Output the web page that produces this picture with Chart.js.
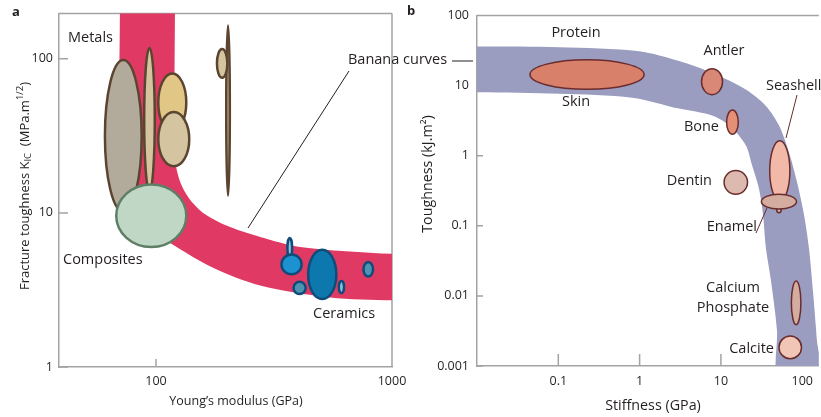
<!DOCTYPE html>
<html>
<head>
<meta charset="utf-8">
<script src="https://cdn.jsdelivr.net/npm/chart.js@4.4.1/dist/chart.umd.min.js"></script>
<style>
  html, body { margin: 0; padding: 0; background: #fff; }
  #wrap { position: relative; width: 821px; height: 417px; }
  canvas { position: absolute; top: 0; }
  #chartA { left: 0; }
  #chartB { left: 410px; }
</style>
</head>
<body>
<div id="wrap">
  <canvas id="chartA" width="821" height="417"></canvas>
  <canvas id="chartB" width="411" height="417"></canvas>
</div>
<script>
// ---- panel a: fracture toughness vs Young's modulus ----
const aTicksX = [100, 1000];
const aTicksY = [1, 10, 100];

// banana band: lower/left edge, then upper/right edge back to the top
const aBandLowX = [70.4, 70.4, 76.1, 89.8, 120.4, 174.5, 276.3, 547, 1000, 2000];
const aBandLowY = [300, 21.5, 11.9, 8.22, 6.11, 4.41, 3.38, 2.83, 2.71, 2.70];
const aBandHighX = [2000, 1000, 408.3, 276.3, 206.1, 161.4, 139.4, 126.4, 120.4, 120.4];
const aBandHighY = [5.40, 5.43, 6.02, 6.98, 8.09, 9.81, 12.2, 16.0, 23.1, 300];

// material blobs (modulus range, toughness range)
const aBlobXLo = [60, 88, 101, 101, 196, 179, 67, 356, 336, 378, 436, 588, 748];
const aBlobXHi = [88, 100, 136, 140, 208, 203, 136, 382, 419, 436, 588, 634, 841];
const aBlobYLo = [10, 13.5, 33, 19.7, 12.7, 74, 5.9, 5.0, 3.92, 2.92, 2.71, 2.96, 3.79];
const aBlobYHi = [100, 120, 82, 46, 168, 118, 15.6, 7.0, 5.47, 3.64, 5.87, 3.68, 4.9];
const aBlobFill = ['#B2AA9A', '#D4C4A0', '#E2C686', '#D4C4A0', '#C9B48C', '#D4C4A0', '#C0D7C6',
                   '#8FC6DE', '#1D92D0', '#4C95B0', '#0D78AD', '#86C3DC', '#4C95B0'];
const aBlobLine = ['#5B4530', '#5B4530', '#5B4530', '#5B4530', '#5B4530', '#5B4530', '#5E7F66',
                   '#0F4C7A', '#0F4C7A', '#0F4C7A', '#0F4C7A', '#0F4C7A', '#0F4C7A'];

// ---- panel b: toughness vs stiffness ----
const bTicksX = [0.1, 1, 10, 100];
const bTicksY = [0.001, 0.01, 0.1, 1, 10, 100];

const bBandLowX = [0.008, 0.1026, 0.809, 3.06, 7.78, 12.6, 20.2, 24.1, 29.4, 32.9, 35.8, 41.3, 48.9, 51.7];
const bBandLowY = [8.09, 7.66, 6.73, 4.70, 3.74, 2.71, 1.41, 0.737, 0.3375, 0.145, 0.048, 0.0164, 0.00323, 0.00063];
const bBandHighX = [165, 151.6, 135.4, 121, 105, 86.1, 68.6, 51.7, 35.5, 20.2, 7.78, 3.06, 0.986, 0.1026, 0.008];
const bBandHighY = [0.00063, 0.00233, 0.01184, 0.048, 0.145, 0.424, 1.12, 2.71, 5.18, 8.81, 15.2, 22.4, 31.0, 35.3, 36.1];

// skin, antler, bone, dentin, seashell, enamel nub, enamel, calcium phosphate, calcite
const bBlobXLo = [0.0439, 5.65, 11.5, 10.7, 39.0, 47.5, 30.8, 72.0, 50.7];
const bBlobXHi = [1.159, 10.7, 16.7, 21.7, 72.0, 56.3, 86.8, 98.3, 100];
const bBlobYLo = [8.64, 7.25, 1.97, 0.275, 0.221, 0.150, 0.169, 0.00379, 0.00124];
const bBlobYHi = [23.9, 17.8, 4.60, 0.632, 1.68, 0.188, 0.290, 0.01677, 0.00274];
const bBlobFill = ['#D8806A', '#D98877', '#E68F77', '#DDBAB0', '#F2B9A8', '#D5ACA0', '#D5ACA0', '#D5ACA0', '#F2C6B7'];

const ink = '#231F20';
const axisGray = '#A3A3A3';
const fam = '"Open Sans", sans-serif';

function pairs(xs, ys) {
    return xs.map((x, i) => ({x: x, y: ys[i]}));
}

// ellipses drawn from value ranges through the chart scales
const blobPlugin = {
    id: 'blobs',
    afterDatasetsDraw(chart, args, opts) {
        const {ctx, chartArea: a, scales} = chart;
        ctx.save();
        ctx.beginPath();
        ctx.rect(a.left, a.top, a.right - a.left, a.bottom - a.top);
        ctx.clip();
        opts.xLo.forEach((v, i) => {
            const x1 = scales.x.getPixelForValue(v);
            const x2 = scales.x.getPixelForValue(opts.xHi[i]);
            const y1 = scales.y.getPixelForValue(opts.yHi[i]);
            const y2 = scales.y.getPixelForValue(opts.yLo[i]);
            const lw = opts.width;
            ctx.beginPath();
            ctx.ellipse((x1 + x2) / 2, (y1 + y2) / 2,
                Math.max(Math.abs(x2 - x1) / 2 - lw / 2, 1),
                Math.max(Math.abs(y2 - y1) / 2 - lw / 2, 1), 0, 0, Math.PI * 2);
            ctx.fillStyle = opts.fill[i];
            ctx.fill();
            ctx.lineWidth = lw;
            ctx.strokeStyle = Array.isArray(opts.line) ? opts.line[i] : opts.line;
            ctx.stroke();
        });
        ctx.restore();
    }
};

// inward tick marks and the top/right frame
const framePlugin = {
    id: 'frame',
    beforeDatasetsDraw(chart, args, opts) {
        const {ctx, chartArea: a, scales} = chart;
        ctx.save();
        ctx.strokeStyle = axisGray;
        ctx.lineWidth = 1.5;
        ctx.beginPath();
        scales.x.ticks.forEach(t => {
            const px = scales.x.getPixelForValue(t.value);
            ctx.moveTo(px, a.bottom);
            ctx.lineTo(px, a.bottom - opts.xTick);
        });
        scales.y.ticks.forEach(t => {
            const py = scales.y.getPixelForValue(t.value);
            ctx.moveTo(a.left, py);
            ctx.lineTo(a.left + opts.yTick, py);
        });
        ctx.moveTo(a.left, a.top);
        ctx.lineTo(a.right, a.top);
        if (opts.right) {
            ctx.moveTo(a.right, a.top);
            ctx.lineTo(a.right, a.bottom);
        }
        ctx.stroke();
        ctx.restore();
    }
};

// labels, leader lines, axis titles (page coordinates)
const notesPlugin = {
    id: 'notes',
    afterDraw(chart, args, opts) {
        const ctx = chart.ctx;
        ctx.save();
        ctx.translate(-opts.offset, 0);
        ctx.textBaseline = 'middle';
        opts.lines.forEach(l => {
            ctx.strokeStyle = l[4];
            ctx.lineWidth = 1;
            ctx.beginPath();
            ctx.moveTo(l[0], l[1]);
            ctx.lineTo(l[2], l[3]);
            ctx.stroke();
        });
        ctx.fillStyle = ink;
        opts.texts.forEach(t => {
            ctx.font = t[4];
            ctx.textAlign = t[3];
            ctx.fillText(t[0], t[1], t[2]);
        });
        opts.rotated.forEach(r => {
            ctx.save();
            ctx.translate(r.x, r.y);
            ctx.rotate(-Math.PI / 2);
            let total = 0;
            r.parts.forEach(p => { ctx.font = p[1]; total += ctx.measureText(p[0]).width; });
            let x = -total / 2;
            ctx.textAlign = 'left';
            r.parts.forEach(p => {
                ctx.font = p[1];
                ctx.fillText(p[0], x, p[2]);
                x += ctx.measureText(p[0]).width;
            });
            ctx.restore();
        });
        ctx.restore();
    }
};

function logAxis(min, max, ticks, fit, pad, size) {
    return {
        type: 'logarithmic',
        min: min,
        max: max,
        bounds: 'data',
        afterBuildTicks: s => { s.ticks = ticks.map(v => ({value: v})); },
        afterFit: fit,
        grid: {display: false, drawTicks: false, tickLength: 0},
        border: {display: true, color: axisGray, width: 1.5},
        ticks: {
            padding: pad,
            color: ink,
            autoSkip: false,
            maxRotation: 0,
            font: {family: fam, size: size},
            callback: v => String(v)
        }
    };
}

const note = '14.5px ' + fam;
const bold = 'bold 13px ' + fam;

new Chart(document.getElementById('chartA').getContext('2d'), {
    type: 'scatter',
    data: {
        datasets: [{
            data: pairs(aBandLowX, aBandLowY).concat(pairs(aBandHighX, aBandHighY)),
            showLine: true,
            fill: 'shape',
            backgroundColor: '#E03A64',
            borderWidth: 0,
            pointRadius: 0,
            tension: 0.3,
            capBezierPoints: false
        }]
    },
    options: {
        responsive: false,
        animation: false,
        events: [],
        layout: {padding: {left: 0, top: 10, right: 429, bottom: 0}},
        scales: {
            x: logAxis(38.8, 1000, aTicksX, s => { s.height = 50; }, 7, 12.5),
            y: logAxis(1, 197, aTicksY, s => { s.width = 59; }, 6, 12.5)
        },
        plugins: {
            legend: {display: false},
            tooltip: {enabled: false},
            blobs: {xLo: aBlobXLo, xHi: aBlobXHi, yLo: aBlobYLo, yHi: aBlobYHi,
                    fill: aBlobFill, line: aBlobLine, width: 2.5},
            frame: {xTick: 8, yTick: 9, right: true},
            notes: {
                offset: 0,
                lines: [[349, 71, 248, 228, ink], [452, 61, 473, 61, ink]],
                texts: [
                    ['a', 12, 12, 'left', bold],
                    ['b', 407, 11, 'left', bold],
                    ['Metals', 68, 38, 'left', note],
                    ['Composites', 63, 260, 'left', note],
                    ['Ceramics', 313, 314, 'left', note],
                    ['Banana curves', 348, 60, 'left', note],
                    ['Young\u2019s modulus (GPa)', 236, 401, 'center', '12.5px ' + fam]
                ],
                rotated: [{
                    x: 25, y: 186,
                    parts: [
                        ['Fracture toughness K', '13px ' + fam, 0],
                        ['IC', '9.5px ' + fam, 3],
                        ['  (MPa.m', '13px ' + fam, 0],
                        ['1/2', '9.5px ' + fam, -5],
                        [')', '13px ' + fam, 0]
                    ]
                }]
            }
        }
    },
    plugins: [framePlugin, blobPlugin, notesPlugin]
});

new Chart(document.getElementById('chartB').getContext('2d'), {
    type: 'scatter',
    data: {
        datasets: [{
            data: pairs(bBandLowX, bBandLowY).concat(pairs(bBandHighX, bBandHighY)),
            showLine: true,
            fill: 'shape',
            backgroundColor: '#9A9CC0',
            borderWidth: 0,
            pointRadius: 0,
            tension: 0.3,
            capBezierPoints: false
        }]
    },
    options: {
        responsive: false,
        animation: false,
        events: [],
        layout: {padding: {left: 0, top: 11, right: 1, bottom: 0}},
        scales: {
            x: logAxis(0.01, 160, bTicksX, s => { s.height = 51; }, 8, 12.5),
            y: logAxis(0.001, 100, bTicksY, s => { s.width = 67; }, 8, 12.5)
        },
        plugins: {
            legend: {display: false},
            tooltip: {enabled: false},
            blobs: {xLo: bBlobXLo, xHi: bBlobXHi, yLo: bBlobYLo, yHi: bBlobYHi,
                    fill: bBlobFill, line: '#6A2C2C', width: 1.5},
            frame: {xTick: 12, yTick: 6, right: false},
            notes: {
                offset: 410,
                lines: [[797, 95, 786, 138, '#6A2C2C'], [756, 233, 767, 208, '#6A2C2C']],
                texts: [
                    ['Protein', 576, 33, 'center', note],
                    ['Skin', 576, 102, 'center', note],
                    ['Antler', 724, 51, 'center', note],
                    ['Bone', 719, 127, 'right', note],
                    ['Seashell', 766, 86, 'left', note],
                    ['Dentin', 712, 181, 'right', note],
                    ['Enamel', 757, 227, 'right', note],
                    ['Calcium', 733, 288, 'center', note],
                    ['Phosphate', 733, 308, 'center', note],
                    ['Calcite', 774, 349, 'right', note],
                    ['Stiffness (GPa)', 653, 406, 'center', '14.3px ' + fam]
                ],
                rotated: [{
                    x: 428, y: 174,
                    parts: [['Toughness (kJ.m\u00B2)', '14.3px ' + fam, 0]]
                }]
            }
        }
    },
    plugins: [framePlugin, blobPlugin, notesPlugin]
});
</script>
</body>
</html>
